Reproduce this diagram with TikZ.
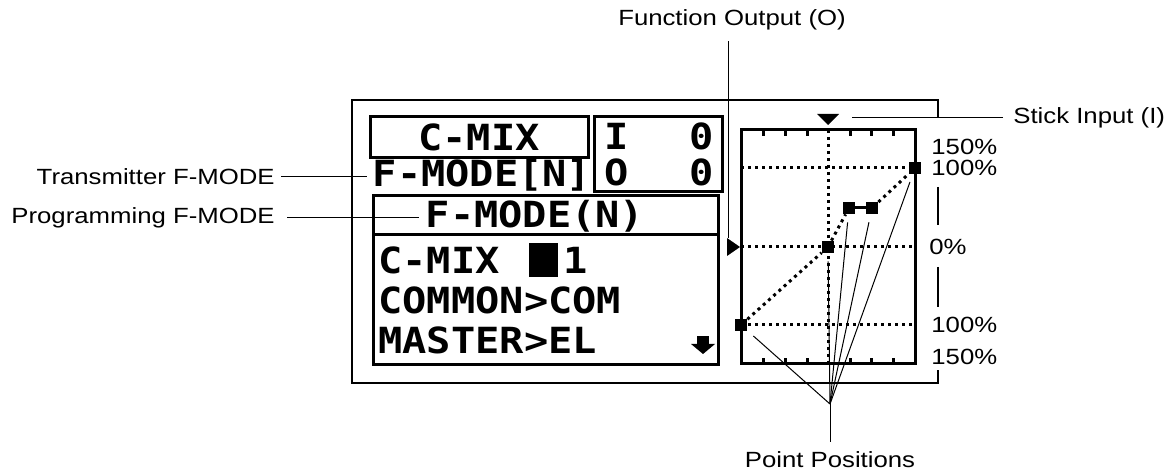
\documentclass[tikz,border=0pt]{standalone}
\usepackage{fontspec}
\usetikzlibrary{positioning}
\newfontfamily\lblfont{Liberation Sans}[FakeStretch=1.17]
\newfontfamily\lcdfont{DejaVu Sans Mono}[FakeStretch=1.12]
\tikzset{
  lbl/.style={font=\lblfont\fontsize{11}{13}\selectfont,inner sep=0pt},
  lcd/.style={font=\lcdfont\bfseries\fontsize{18}{20}\selectfont,inner sep=0pt},
  lcdbox/.style={draw,line width=1.5pt,inner sep=0pt},
  frm/.style={line width=0.75pt},
  callout/.style={line width=0.5pt},
  dotline/.style={line width=1.5pt,dash pattern=on 1.5pt off 2pt},
  pnt/.style={fill,minimum size=6pt,inner sep=0pt},
}

\begin{document}
\begin{tikzpicture}[x=0.5pt,y=-0.5pt]
  \useasboundingbox (0,0) rectangle (1168,470);
  % outer frame, broken where the % labels sit
  \draw[frm] (938,118) -- (938,100) -- (352,100) -- (352,383) -- (938,383) -- (938,370);
  \draw[frm] (938,187) -- (938,225) (938,267) -- (938,307);

  % screen boxes
  \node[lcdbox,lcd,minimum width=109pt,minimum height=20.5pt] (cmix) at (479,137.5) {C-MIX};
  \node[lcdbox,minimum width=64pt,minimum height=37.5pt] (io) at (658,154.5) {};
  \node[lcd,anchor=west] (iin) at (604,136) {I};
  \node[lcd,anchor=east] (ival) at (714,136) {0};
  \node[lcd,anchor=west] (oout) at (604,172) {O};
  \node[lcd,anchor=east] (oval) at (714,172) {0};
  \node[lcd] (fmn) at (482,175) {F-MODE[N]};
  \node[lcdbox,minimum width=172.5pt,minimum height=19.5pt] (fmpbox) at (545.5,215.5) {};
  \node[lcd] (fmp) at (535,216) {F-MODE(N)};
  \node[lcdbox,minimum width=172.5pt,minimum height=65pt] (menu) at (545.5,300) {};
  \node[lcd,anchor=west] (m1) at (378,260) {C-MIX};
  \node[fill,minimum width=14.5pt,minimum height=17pt,inner sep=0pt] (cur) at (543.5,260) {};
  \node[lcd,anchor=west] (m1n) at (563,260) {1};
  \node[lcd,anchor=west] (m2) at (378,300) {COMMON>COM};
  \node[lcd,anchor=west] (m3) at (378,340) {MASTER>EL};
  \fill (697,336) rectangle (709,345);
  \fill (691,344) -- (715,344) -- (703,354) -- cycle;

  % curve graph
  \node[draw,line width=1.5pt,minimum width=87pt,minimum height=117pt,inner sep=0pt] (graph) at (828,247) {};
  \foreach \y in {168,247,325} \draw[dotline] (741,\y) -- (915,\y);
  \draw[dotline] (828,130) -- (828,364);
  \foreach \x in {763,785,807,850,871,893} {
    \fill (\x-1.5,130) rectangle (\x+1.5,136);
    \fill (\x-1.5,358) rectangle (\x+1.5,364);
  }
  \node[pnt] (p1) at (741,325) {};
  \node[pnt] (p2) at (828,247) {};
  \node[pnt] (p3) at (849,208) {};
  \node[pnt] (p4) at (872,208) {};
  \node[pnt] (p5) at (915,168) {};
  \draw[dotline] (p1) -- (p2) -- (p3);
  \draw[line width=1.5pt] (p3) -- (p4);
  \draw[dotline] (p4) -- (p5);
  \fill (817,114) -- (839,114) -- (828,125) -- cycle;
  \fill (727,238) -- (727,256) -- (740,247) -- cycle;
  \coordinate (om) at (728,238);

  % % scale
  \node[lbl,anchor=west] (l150t) at (931,147) {150\%};
  \node[lbl,anchor=west] (l100t) at (931,168) {100\%};
  \node[lbl,anchor=west] (l0) at (929,247) {0\%};
  \node[lbl,anchor=west] (l100b) at (931,325) {100\%};
  \node[lbl,anchor=west] (l150b) at (931,357) {150\%};

  % callouts
  \node[lbl] (fo) at (732,20) {Function Output (O)};
  \draw[callout,shorten >=5pt] (om) -- (om |- fo.south);
  \node[lbl,anchor=west] (si) at (1013,118) {Stick Input (I)};
  \coordinate (siend) at (852,118);
  \draw[callout,shorten <=5pt] (si.west) -- (siend);
  \node[lbl,anchor=east] (tx) at (275,177) {Transmitter F-MODE};
  \draw[callout,shorten <=3pt,shorten >=2.5pt] (tx.east) -- (tx.east -| fmn.west);
  \node[lbl,anchor=east] (pg) at (275,218) {Programming F-MODE};
  \draw[callout,shorten <=6pt,shorten >=3pt] (pg.east) -- (pg.east -| fmp.west);
  \node[lbl] (pp) at (830,460) {Point Positions};
  \coordinate (apex) at (830,404);
  \draw[callout,shorten <=5pt] (pp) -- (apex);
  \foreach \p in {p1,p2,p3,p4,p5} \draw[callout,shorten >=4pt] (apex) -- (\p);
\end{tikzpicture}
\end{document}
